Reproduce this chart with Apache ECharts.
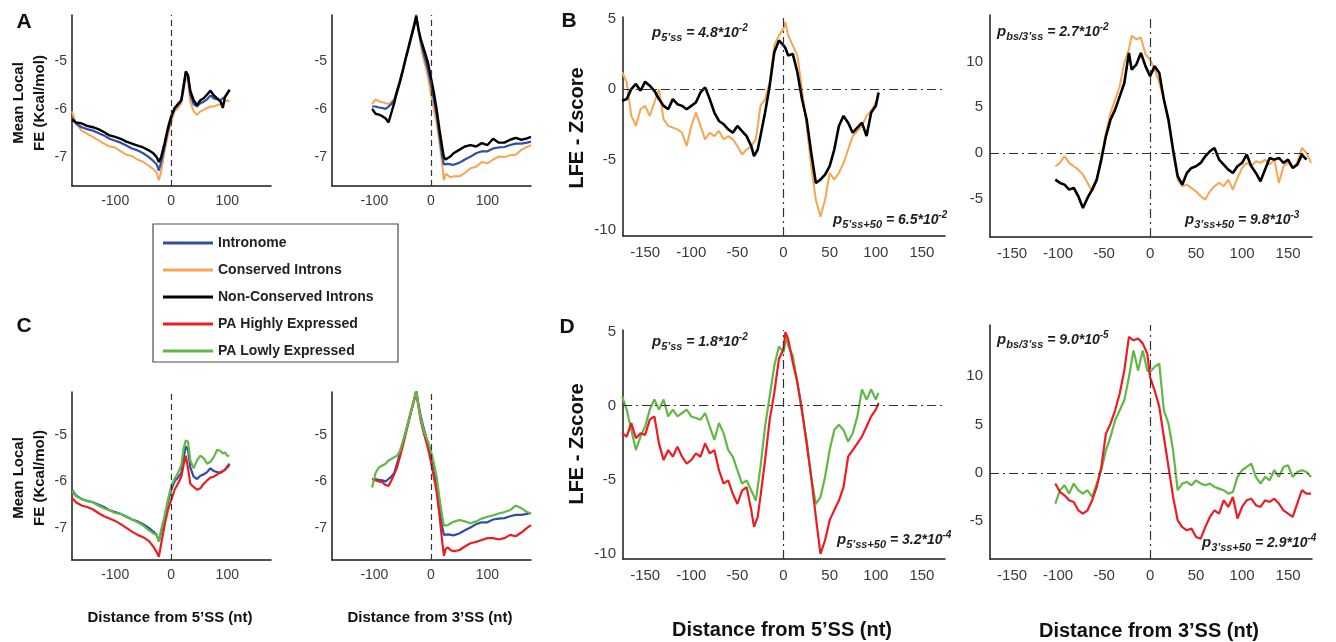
<!DOCTYPE html>
<html>
<head>
<meta charset="utf-8">
<title>Local folding energy around splice sites</title>
<script src="https://cdn.jsdelivr.net/npm/echarts@6/dist/echarts.min.js"></script>
<style>
  html, body { margin: 0; padding: 0; background: #fff; }
  #chart { width: 1336px; height: 642px; }
</style>
</head>
<body>
<div id="chart"></div>
<script>
// ---------- Mean local free energy (Kcal/mol) around the 5'SS ----------
const fe5Pos = [-177,-170,-160,-150,-140,-130,-120,-110,-100,-90,-80,-70,-60,-50,-40,-32,-26,-22,-18,-12,-6,0,6,12,18,22,26,30,34,40,46,52,58,64,70,76,82,88,92,96,100,104];
const fe5Intronome = [-6.18,-6.30,-6.38,-6.42,-6.45,-6.50,-6.55,-6.62,-6.66,-6.70,-6.76,-6.82,-6.86,-6.92,-7.00,-7.08,-7.15,-7.28,-7.10,-6.80,-6.45,-6.18,-6.00,-5.92,-5.82,-5.50,-5.25,-5.32,-5.70,-5.90,-5.95,-5.88,-5.85,-5.80,-5.72,-5.78,-5.80,-5.82,-5.78,-5.75,-5.68,-5.62];
const fe5Conserved = [-6.05,-6.30,-6.45,-6.52,-6.58,-6.65,-6.72,-6.78,-6.80,-6.88,-6.95,-6.98,-7.05,-7.10,-7.18,-7.25,-7.32,-7.48,-7.30,-6.90,-6.55,-6.28,-6.05,-5.98,-5.88,-5.62,-5.32,-5.45,-5.85,-6.05,-6.12,-6.05,-6.02,-5.98,-5.95,-5.95,-5.92,-5.90,-5.88,-5.85,-5.82,-5.85];
const fe5NonConserved = [-6.22,-6.28,-6.30,-6.35,-6.38,-6.42,-6.48,-6.55,-6.58,-6.62,-6.68,-6.72,-6.76,-6.80,-6.86,-6.92,-7.00,-7.10,-7.00,-6.72,-6.40,-6.15,-5.98,-5.90,-5.82,-5.55,-5.22,-5.30,-5.62,-5.82,-5.92,-5.82,-5.78,-5.70,-5.62,-5.72,-5.78,-5.85,-5.98,-5.75,-5.68,-5.60];
const fe5High = [-6.35,-6.45,-6.52,-6.55,-6.60,-6.68,-6.75,-6.80,-6.85,-6.92,-7.00,-7.08,-7.15,-7.20,-7.28,-7.40,-7.52,-7.62,-7.35,-6.95,-6.62,-6.40,-6.18,-6.05,-5.90,-5.65,-5.45,-5.72,-6.05,-6.12,-6.18,-6.15,-6.05,-5.98,-5.92,-5.90,-5.85,-5.80,-5.78,-5.75,-5.70,-5.65];
const fe5Low = [-6.20,-6.32,-6.38,-6.42,-6.45,-6.52,-6.58,-6.62,-6.68,-6.70,-6.75,-6.82,-6.88,-6.95,-7.05,-7.12,-7.15,-7.30,-7.05,-6.75,-6.40,-6.10,-5.95,-5.82,-5.65,-5.30,-5.12,-5.15,-5.55,-5.72,-5.55,-5.45,-5.50,-5.62,-5.58,-5.48,-5.32,-5.35,-5.40,-5.38,-5.45,-5.45];

// ---------- Mean local free energy (Kcal/mol) around the 3'SS ----------
const fe3Pos = [-104,-98,-92,-86,-80,-75,-70,-65,-60,-55,-50,-45,-40,-35,-30,-26,-22,-18,-14,-10,-5,0,5,10,15,20,23,26,30,35,40,50,60,70,80,90,100,110,120,130,140,150,160,170,177];
const fe3Intronome = [-5.95,-5.95,-5.97,-5.98,-6.00,-5.95,-5.90,-5.82,-5.62,-5.42,-5.20,-4.95,-4.72,-4.48,-4.25,-4.05,-4.35,-4.60,-4.80,-4.98,-5.20,-5.48,-5.80,-6.12,-6.55,-6.98,-7.15,-7.16,-7.14,-7.15,-7.16,-7.12,-7.05,-6.99,-6.92,-6.88,-6.88,-6.82,-6.80,-6.79,-6.75,-6.72,-6.72,-6.70,-6.68];
const fe3Conserved = [-5.90,-5.80,-5.84,-5.86,-5.88,-5.90,-5.85,-5.80,-5.60,-5.40,-5.18,-4.95,-4.72,-4.50,-4.28,-4.05,-4.40,-4.68,-4.92,-5.10,-5.35,-5.70,-6.00,-6.30,-6.70,-7.15,-7.48,-7.35,-7.38,-7.42,-7.40,-7.40,-7.33,-7.23,-7.20,-7.10,-7.13,-7.05,-6.99,-7.00,-6.96,-6.95,-6.85,-6.79,-6.75];
const fe3NonConserved = [-6.00,-6.10,-6.12,-6.15,-6.20,-6.28,-6.08,-5.88,-5.65,-5.45,-5.22,-4.98,-4.75,-4.52,-4.30,-4.08,-4.35,-4.55,-4.70,-4.85,-5.05,-5.35,-5.65,-6.00,-6.42,-6.80,-7.00,-7.05,-7.02,-6.98,-6.92,-6.85,-6.78,-6.75,-6.78,-6.71,-6.75,-6.62,-6.70,-6.70,-6.64,-6.60,-6.64,-6.61,-6.58];
const fe3High = [-5.95,-5.98,-6.00,-6.02,-6.08,-6.10,-5.98,-5.85,-5.70,-5.48,-5.25,-5.00,-4.75,-4.50,-4.28,-4.08,-4.40,-4.70,-4.90,-5.08,-5.30,-5.58,-5.90,-6.22,-6.72,-7.30,-7.60,-7.45,-7.42,-7.48,-7.50,-7.48,-7.40,-7.33,-7.30,-7.26,-7.22,-7.22,-7.25,-7.22,-7.15,-7.18,-7.10,-7.00,-6.94];
const fe3Low = [-6.13,-5.82,-5.70,-5.66,-5.62,-5.55,-5.52,-5.48,-5.45,-5.35,-5.15,-4.95,-4.72,-4.48,-4.25,-4.05,-4.40,-4.65,-4.85,-5.00,-5.15,-5.35,-5.60,-5.90,-6.35,-6.76,-6.95,-6.98,-6.94,-6.90,-6.87,-6.83,-6.86,-6.90,-6.86,-6.80,-6.76,-6.73,-6.69,-6.66,-6.62,-6.52,-6.58,-6.66,-6.69];

// ---------- LFE Z-scores, [distance (nt), zscore] ----------
const z5Conserved = [[-175,1.19],[-170,0.48],[-165,-1.9],[-160,-2.61],[-155,-1.43],[-150,-1.19],[-145,-1.9],[-140,-0.95],[-135,0],[-130,-2.14],[-125,-2.61],[-120,-2.73],[-115,-2.85],[-110,-3.09],[-105,-4.04],[-100,-2.61],[-95,-1.66],[-90,-2.61],[-85,-3.56],[-80,-3.09],[-75,-3.33],[-70,-2.97],[-65,-3.56],[-60,-3.33],[-55,-3.56],[-50,-4.04],[-45,-4.63],[-40,-4.28],[-35,-4.04],[-30,-3.56],[-25,-1.19],[-20,-0.71],[-15,0.48],[-10,3.09],[-5,3.8],[0,4.28],[2,4.75],[5,3.8],[10,3.09],[15,2.38],[20,0],[25,-2.61],[30,-5.46],[35,-7.84],[40,-9.03],[45,-7.84],[50,-5.94],[55,-6.41],[60,-5.94],[65,-5.23],[70,-4.28],[75,-3.33],[80,-2.97],[85,-2.61],[90,-1.9],[95,-1.54],[100,-0.95],[103,-0.48]];
const z5NonConserved = [[-175,-0.83],[-170,-0.71],[-165,0],[-160,0.36],[-155,-0.12],[-150,0.52],[-145,0.24],[-140,-0.12],[-135,-0.71],[-130,-1.19],[-125,-1.43],[-120,-0.71],[-115,-1.07],[-110,-1.19],[-105,-1.43],[-100,-1.19],[-95,-0.95],[-90,-0.24],[-85,0.12],[-80,-0.71],[-75,-1.66],[-70,-2.26],[-65,-2.49],[-60,-2.85],[-55,-3.09],[-50,-2.61],[-45,-2.97],[-40,-3.33],[-35,-4.04],[-32,-4.75],[-28,-4.28],[-25,-3.33],[-20,-1.66],[-15,0.24],[-10,2.61],[-5,3.44],[0,3.09],[2,2.9],[5,2.38],[10,2.49],[15,1.19],[20,-0.71],[25,-2.14],[30,-4.51],[35,-6.65],[40,-6.41],[45,-6.06],[50,-5.46],[55,-4.28],[60,-2.61],[65,-1.9],[70,-2.38],[75,-3.09],[80,-2.73],[85,-2.38],[90,-3.33],[95,-1.66],[100,-1.19],[103,-0.24]];
const z3Conserved = [[-103,-1.46],[-98,-1.09],[-93,-0.36],[-88,-1.09],[-83,-1.46],[-78,-1.82],[-73,-2.37],[-68,-3.28],[-63,-4.2],[-58,-3.1],[-53,-0.36],[-48,2.19],[-43,4.38],[-38,5.84],[-33,7.3],[-28,9.89],[-23,11.35],[-20,12.81],[-15,12.45],[-10,12.63],[-5,10.8],[0,10.22],[5,9.12],[10,7.66],[15,5.84],[20,3.28],[25,0],[30,-2.92],[35,-3.65],[40,-3.47],[45,-3.83],[50,-4.2],[55,-4.74],[60,-5.11],[65,-4.2],[70,-3.65],[75,-3.28],[80,-3.65],[85,-2.92],[90,-4.01],[95,-2.74],[100,-1.64],[105,-1.09],[110,-1.46],[115,-0.91],[120,-1.09],[125,-0.73],[130,-1.28],[135,-0.73],[140,-3.28],[145,-1.46],[150,-1.09],[155,-1.64],[160,-1.09],[165,0.55],[170,0],[175,-1.09]];
const z3NonConserved = [[-103,-2.92],[-98,-3.28],[-93,-3.47],[-88,-4.01],[-83,-3.83],[-78,-4.74],[-73,-6.02],[-68,-4.93],[-63,-4.01],[-58,-2.92],[-53,-0.73],[-48,1.82],[-43,3.65],[-38,4.74],[-33,6.2],[-28,7.66],[-23,10.95],[-20,9.12],[-15,9.67],[-10,10.95],[-5,9.5],[0,8.39],[5,9.5],[10,8.76],[15,5.84],[20,3.65],[25,0.36],[30,-2.55],[35,-3.47],[40,-2.19],[45,-1.64],[50,-1.46],[55,-1.09],[60,-0.36],[65,0.18],[70,0.55],[75,-0.73],[80,-1.28],[85,-1.82],[90,-2.19],[95,-1.46],[100,-1.09],[105,-0.18],[110,-1.46],[115,-2.19],[120,-3.1],[125,-1.82],[130,-0.55],[135,-0.73],[140,-0.55],[145,-1.09],[150,-0.73],[155,-1.64],[160,-1.28],[165,-0.18],[170,-0.73]];
const z5Low = [[-175,0.64],[-170,-0.27],[-165,-1.64],[-160,-3.0],[-155,-2.09],[-150,-1.41],[-145,-0.27],[-140,0.41],[-135,-0.27],[-130,0.41],[-125,-0.73],[-120,-0.27],[-115,-0.73],[-110,-0.5],[-105,-0.27],[-100,-0.73],[-95,-0.84],[-90,-0.95],[-85,-0.5],[-80,-1.41],[-75,-2.32],[-70,-1.18],[-65,-1.86],[-60,-3.0],[-55,-3.45],[-50,-4.36],[-45,-5.27],[-40,-5.05],[-35,-5.73],[-30,-6.41],[-25,-4.14],[-20,-1.4],[-15,0.64],[-10,2.68],[-5,4.0],[0,3.59],[3,4.73],[5,4.05],[10,3.36],[15,1.55],[20,-0.5],[25,-2.32],[30,-4.82],[35,-6.64],[40,-6.18],[45,-4.82],[50,-3.0],[55,-1.64],[60,-1.3],[65,-1.64],[70,-2.43],[75,-1.86],[80,-0.73],[85,1.09],[90,0.41],[95,1.09],[100,0.41],[103,0.86]];
const z5High = [[-175,-1.86],[-170,-2.09],[-165,-1.18],[-160,-2.2],[-155,-1.86],[-150,-1.98],[-145,-0.95],[-140,-0.73],[-135,-2.55],[-130,-3.68],[-125,-3.0],[-120,-3.45],[-115,-2.77],[-110,-3.45],[-105,-3.91],[-100,-3.68],[-95,-3.23],[-90,-3.45],[-85,-2.55],[-80,-3.23],[-75,-3.0],[-70,-4.36],[-65,-5.27],[-60,-5.05],[-55,-5.95],[-50,-6.64],[-45,-5.73],[-40,-5.5],[-35,-7.05],[-32,-8.18],[-28,-7.5],[-25,-6.14],[-20,-3.68],[-15,-0.95],[-10,0.86],[-5,3.14],[0,3.82],[2,4.95],[5,4.5],[10,2.91],[15,1.55],[20,-0.27],[25,-2.55],[30,-4.82],[35,-7.5],[40,-10.0],[45,-9.09],[50,-7.73],[55,-7.05],[60,-6.41],[65,-5.5],[70,-3.45],[75,-3.0],[80,-2.55],[85,-2.09],[90,-1.41],[95,-0.73],[100,-0.27],[103,0.18]];
const z3High = [[-103,-1.1],[-98,-1.97],[-93,-2.31],[-88,-2.83],[-83,-3.0],[-78,-3.86],[-73,-4.21],[-68,-3.86],[-63,-2.83],[-58,-1.45],[-53,0.62],[-48,4.07],[-43,5.1],[-38,6.48],[-33,8.21],[-28,10.6],[-23,14.07],[-18,13.72],[-13,13.9],[-8,13.4],[-3,12.31],[0,9.9],[5,8.52],[10,6.83],[15,3.72],[20,0.62],[25,-2.48],[30,-4.9],[35,-5.6],[40,-5.93],[45,-5.76],[50,-6.62],[55,-6.79],[60,-5.6],[65,-4.55],[70,-3.86],[75,-4.21],[80,-2.83],[85,-3.52],[90,-2.48],[95,-4.72],[100,-3.52],[105,-2.83],[110,-2.66],[115,-3.34],[120,-3.52],[125,-2.83],[130,-3.0],[135,-2.66],[140,-3.17],[145,-3.86],[150,-4.21],[155,-4.55],[160,-3.17],[165,-1.79],[170,-2.14],[175,-2.14]];
const z3Low = [[-103,-3.17],[-98,-1.79],[-93,-1.28],[-88,-2.14],[-83,-1.1],[-78,-1.79],[-73,-2.14],[-68,-1.79],[-63,-2.48],[-58,-1.1],[-53,0.28],[-48,2.34],[-43,3.72],[-38,5.45],[-33,6.48],[-28,7.52],[-23,9.9],[-18,12.66],[-13,10.6],[-8,12.66],[-3,10.6],[0,10.45],[5,10.97],[10,11.31],[15,6.48],[20,5.1],[25,2.34],[30,-1.79],[35,-1.1],[40,-0.93],[45,-1.28],[50,-0.76],[55,-1.1],[60,-1.28],[65,-1.1],[70,-1.45],[75,-1.62],[80,-1.79],[85,-2.14],[90,-1.97],[95,-0.41],[100,0.28],[105,0.62],[110,0.97],[115,-0.41],[120,-1.1],[125,-0.41],[130,-0.76],[135,0.28],[140,-0.41],[145,0.62],[150,0.79],[155,-0.41],[160,0.1],[165,0.28],[170,0.1],[175,-0.41]];

// ---------- tick values ----------
const feXTicks = [-100, 0, 100];
const feYTicks = [-7, -6, -5];
const zXTicks = [-150, -100, -50, 0, 50, 100, 150];
const z5YTicks = [-10, -5, 0, 5];
const z3YTicks = [-5, 0, 5, 10];

// ---------- p-values ----------
const pValues = {
  B5: ['5’ss', '4.8', '-2'], B5b: ['5’ss+50', '6.5', '-2'],
  B3: ['bs/3’ss', '2.7', '-2'], B3b: ['3’ss+50', '9.8', '-3'],
  D5: ['5’ss', '1.8', '-2'], D5b: ['5’ss+50', '3.2', '-4'],
  D3: ['bs/3’ss', '9.0', '-5'], D3b: ['3’ss+50', '2.9', '-4']
};

const NAMES = ['Intronome', 'Conserved Introns', 'Non-Conserved Introns', 'PA Highly Expressed', 'PA Lowly Expressed'];
const COLORS = {
  'Intronome': '#2f4ea8',
  'Conserved Introns': '#f7a550',
  'Non-Conserved Introns': '#000000',
  'PA Highly Expressed': '#ec1c24',
  'PA Lowly Expressed': '#62b845'
};

const FONT = '"Liberation Sans", Arial, Helvetica, sans-serif';
const zip = (xs, ys) => xs.map((x, i) => [x, ys[i]]);

// grid boxes (px): A-left, A-right, C-left, C-right, B-left, B-right, D-left, D-right
const grids = [
  { left: 72,  top: 15,  width: 199, height: 171 },
  { left: 332, top: 15,  width: 199, height: 171 },
  { left: 72,  top: 392, width: 199, height: 168 },
  { left: 332, top: 392, width: 199, height: 168 },
  { left: 623, top: 17,  width: 322, height: 219 },
  { left: 990, top: 15,  width: 322, height: 222 },
  { left: 623, top: 330, width: 322, height: 229 },
  { left: 990, top: 325, width: 322, height: 234 }
];

function axis(gridIndex, min, max, ticks, fontSize, margin) {
  return {
    type: 'value', gridIndex, min, max,
    splitLine: { show: false },
    axisLine: { show: true, onZero: false, lineStyle: { color: '#1a1a1a', width: 1.5 } },
    axisTick: { show: false },
    axisLabel: { customValues: ticks, fontSize, color: '#3a3a3a', margin, fontFamily: FONT }
  };
}

const xAxes = [
  axis(0, -177, 178, feXTicks, 14, 8),
  axis(1, -175, 177, feXTicks, 14, 8),
  axis(2, -177, 178, feXTicks, 14, 8),
  axis(3, -175, 177, feXTicks, 14, 8),
  axis(4, -174, 175, zXTicks, 15, 9),
  axis(5, -174, 176, zXTicks, 15, 9),
  axis(6, -174, 175, zXTicks, 15, 9),
  axis(7, -174, 176, zXTicks, 15, 9)
];
const yAxes = [
  axis(0, -7.6, -4.05, feYTicks, 14, 5),
  axis(1, -7.6, -4.05, feYTicks, 14, 5),
  axis(2, -7.69, -4.08, feYTicks, 14, 5),
  axis(3, -7.69, -4.08, feYTicks, 14, 5),
  axis(4, -10.4, 5.1, z5YTicks, 15, 7),
  axis(5, -9.2, 15.1, z3YTicks, 15, 7),
  axis(6, -10.35, 5.1, z5YTicks, 15, 7),
  axis(7, -8.9, 15.3, z3YTicks, 15, 7)
];

function line(name, g, data, width, extra) {
  return Object.assign({
    type: 'line', name, xAxisIndex: g, yAxisIndex: g, data,
    showSymbol: false, symbol: 'none', silent: true,
    lineStyle: { color: COLORS[name], width },
    itemStyle: { color: COLORS[name] }
  }, extra || {});
}

const dashedZero = {
  markLine: {
    silent: true, symbol: ['none', 'none'], label: { show: false },
    lineStyle: { type: [6, 4], color: '#333', width: 1.2 },
    data: [{ xAxis: 0 }]
  }
};
const dashDotZero = {
  markLine: {
    silent: true, symbol: ['none', 'none'], label: { show: false },
    lineStyle: { type: [9, 4, 2, 4], color: '#333', width: 1.2 },
    data: [{ xAxis: 0 }, { yAxis: 0 }]
  }
};

const series = [
  // A: intronome vs conserved / non-conserved
  line('Conserved Introns', 0, zip(fe5Pos, fe5Conserved), 2, dashedZero),
  line('Intronome', 0, zip(fe5Pos, fe5Intronome), 2.2),
  line('Non-Conserved Introns', 0, zip(fe5Pos, fe5NonConserved), 2.4),
  line('Conserved Introns', 1, zip(fe3Pos, fe3Conserved), 2, dashedZero),
  line('Intronome', 1, zip(fe3Pos, fe3Intronome), 2.2),
  line('Non-Conserved Introns', 1, zip(fe3Pos, fe3NonConserved), 2.4),
  // C: intronome vs expression level
  line('Intronome', 2, zip(fe5Pos, fe5Intronome), 2.2, dashedZero),
  line('PA Highly Expressed', 2, zip(fe5Pos, fe5High), 2.2),
  line('PA Lowly Expressed', 2, zip(fe5Pos, fe5Low), 2.2),
  line('Intronome', 3, zip(fe3Pos, fe3Intronome), 2.2, dashedZero),
  line('PA Highly Expressed', 3, zip(fe3Pos, fe3High), 2.2),
  line('PA Lowly Expressed', 3, zip(fe3Pos, fe3Low), 2.2),
  // B: LFE z-scores, conservation
  line('Conserved Introns', 4, z5Conserved, 2, dashDotZero),
  line('Non-Conserved Introns', 4, z5NonConserved, 2.6),
  line('Conserved Introns', 5, z3Conserved, 2, dashDotZero),
  line('Non-Conserved Introns', 5, z3NonConserved, 2.6),
  // D: LFE z-scores, expression
  line('PA Lowly Expressed', 6, z5Low, 2.2, dashDotZero),
  line('PA Highly Expressed', 6, z5High, 2.2),
  line('PA Lowly Expressed', 7, z3Low, 2.2, dashDotZero),
  line('PA Highly Expressed', 7, z3High, 2.2)
];

// p-value annotation in rich text: p_{sub} = v*10^{exp}
function pLabel(key, x, y) {
  const [sub, val, exp] = pValues[key];
  return {
    type: 'text', x, y, silent: true,
    style: {
      text: '{p|p}{s|' + sub + '}{m| = ' + val + '*10}{e|' + exp + '}',
      fill: '#1e1e1e',
      textVerticalAlign: 'middle',
      rich: {
        p: { fontSize: 15, fontStyle: 'italic', fontWeight: 'bold', fontFamily: FONT, lineHeight: 20, verticalAlign: 'middle', fill: '#1e1e1e' },
        s: { fontSize: 11, fontStyle: 'italic', fontWeight: 'bold', fontFamily: FONT, lineHeight: 11, verticalAlign: 'bottom', fill: '#1e1e1e' },
        m: { fontSize: 14, fontStyle: 'italic', fontWeight: 'bold', fontFamily: FONT, lineHeight: 20, verticalAlign: 'middle', fill: '#1e1e1e' },
        e: { fontSize: 10, fontStyle: 'italic', fontWeight: 'bold', fontFamily: FONT, lineHeight: 10, verticalAlign: 'top', fill: '#1e1e1e' }
      }
    }
  };
}

function label(text, x, y, size, rotate) {
  return {
    type: 'text', x, y, rotation: rotate ? Math.PI / 2 : 0, silent: true,
    style: {
      text, fill: '#111', font: 'bold ' + size + 'px ' + FONT,
      textAlign: 'center', textVerticalAlign: 'middle', lineHeight: 21
    }
  };
}

const graphics = [
  { type: 'rect', z: 0, silent: true, shape: { x: 153, y: 224, width: 245, height: 138 },
    style: { fill: '#fff', stroke: '#4a4a4a', lineWidth: 1.2 } },
  label('A', 24, 22, 21), label('B', 569, 21, 21), label('C', 24, 326, 21), label('D', 567, 327, 21),
  label('Mean Local\nFE (Kcal/mol)', 29, 103, 15, true),
  label('Mean Local\nFE (Kcal/mol)', 29, 478, 15, true),
  label('LFE - Zscore', 577, 128, 20, true),
  label('LFE - Zscore', 577, 444, 20, true),
  label('Distance from 5’SS (nt)', 170, 618, 15),
  label('Distance from 3’SS (nt)', 430, 618, 15),
  label('Distance from 5’SS (nt)', 782, 630, 20),
  label('Distance from 3’SS (nt)', 1149, 631, 20),
  pLabel('B5', 652, 33), pLabel('B5b', 833, 220),
  pLabel('B3', 997, 32), pLabel('B3b', 1185, 220),
  pLabel('D5', 652, 342), pLabel('D5b', 837, 540),
  pLabel('D3', 997, 340), pLabel('D3b', 1202, 543)
];

const chart = echarts.init(document.getElementById('chart'), null, { renderer: 'canvas' });
chart.setOption({
  backgroundColor: '#ffffff',
  animation: false,
  textStyle: { fontFamily: FONT },
  grid: grids,
  xAxis: xAxes,
  yAxis: yAxes,
  legend: {
    data: NAMES, orient: 'vertical', left: 163, top: 235, padding: 0,
    icon: 'rect', itemWidth: 50, itemHeight: 3, itemGap: 11,
    selectedMode: false, z: 10,
    textStyle: { fontSize: 14, fontWeight: 'bold', color: '#222', lineHeight: 16, fontFamily: FONT }
  },
  graphic: graphics,
  series
});
</script>
</body>
</html>
